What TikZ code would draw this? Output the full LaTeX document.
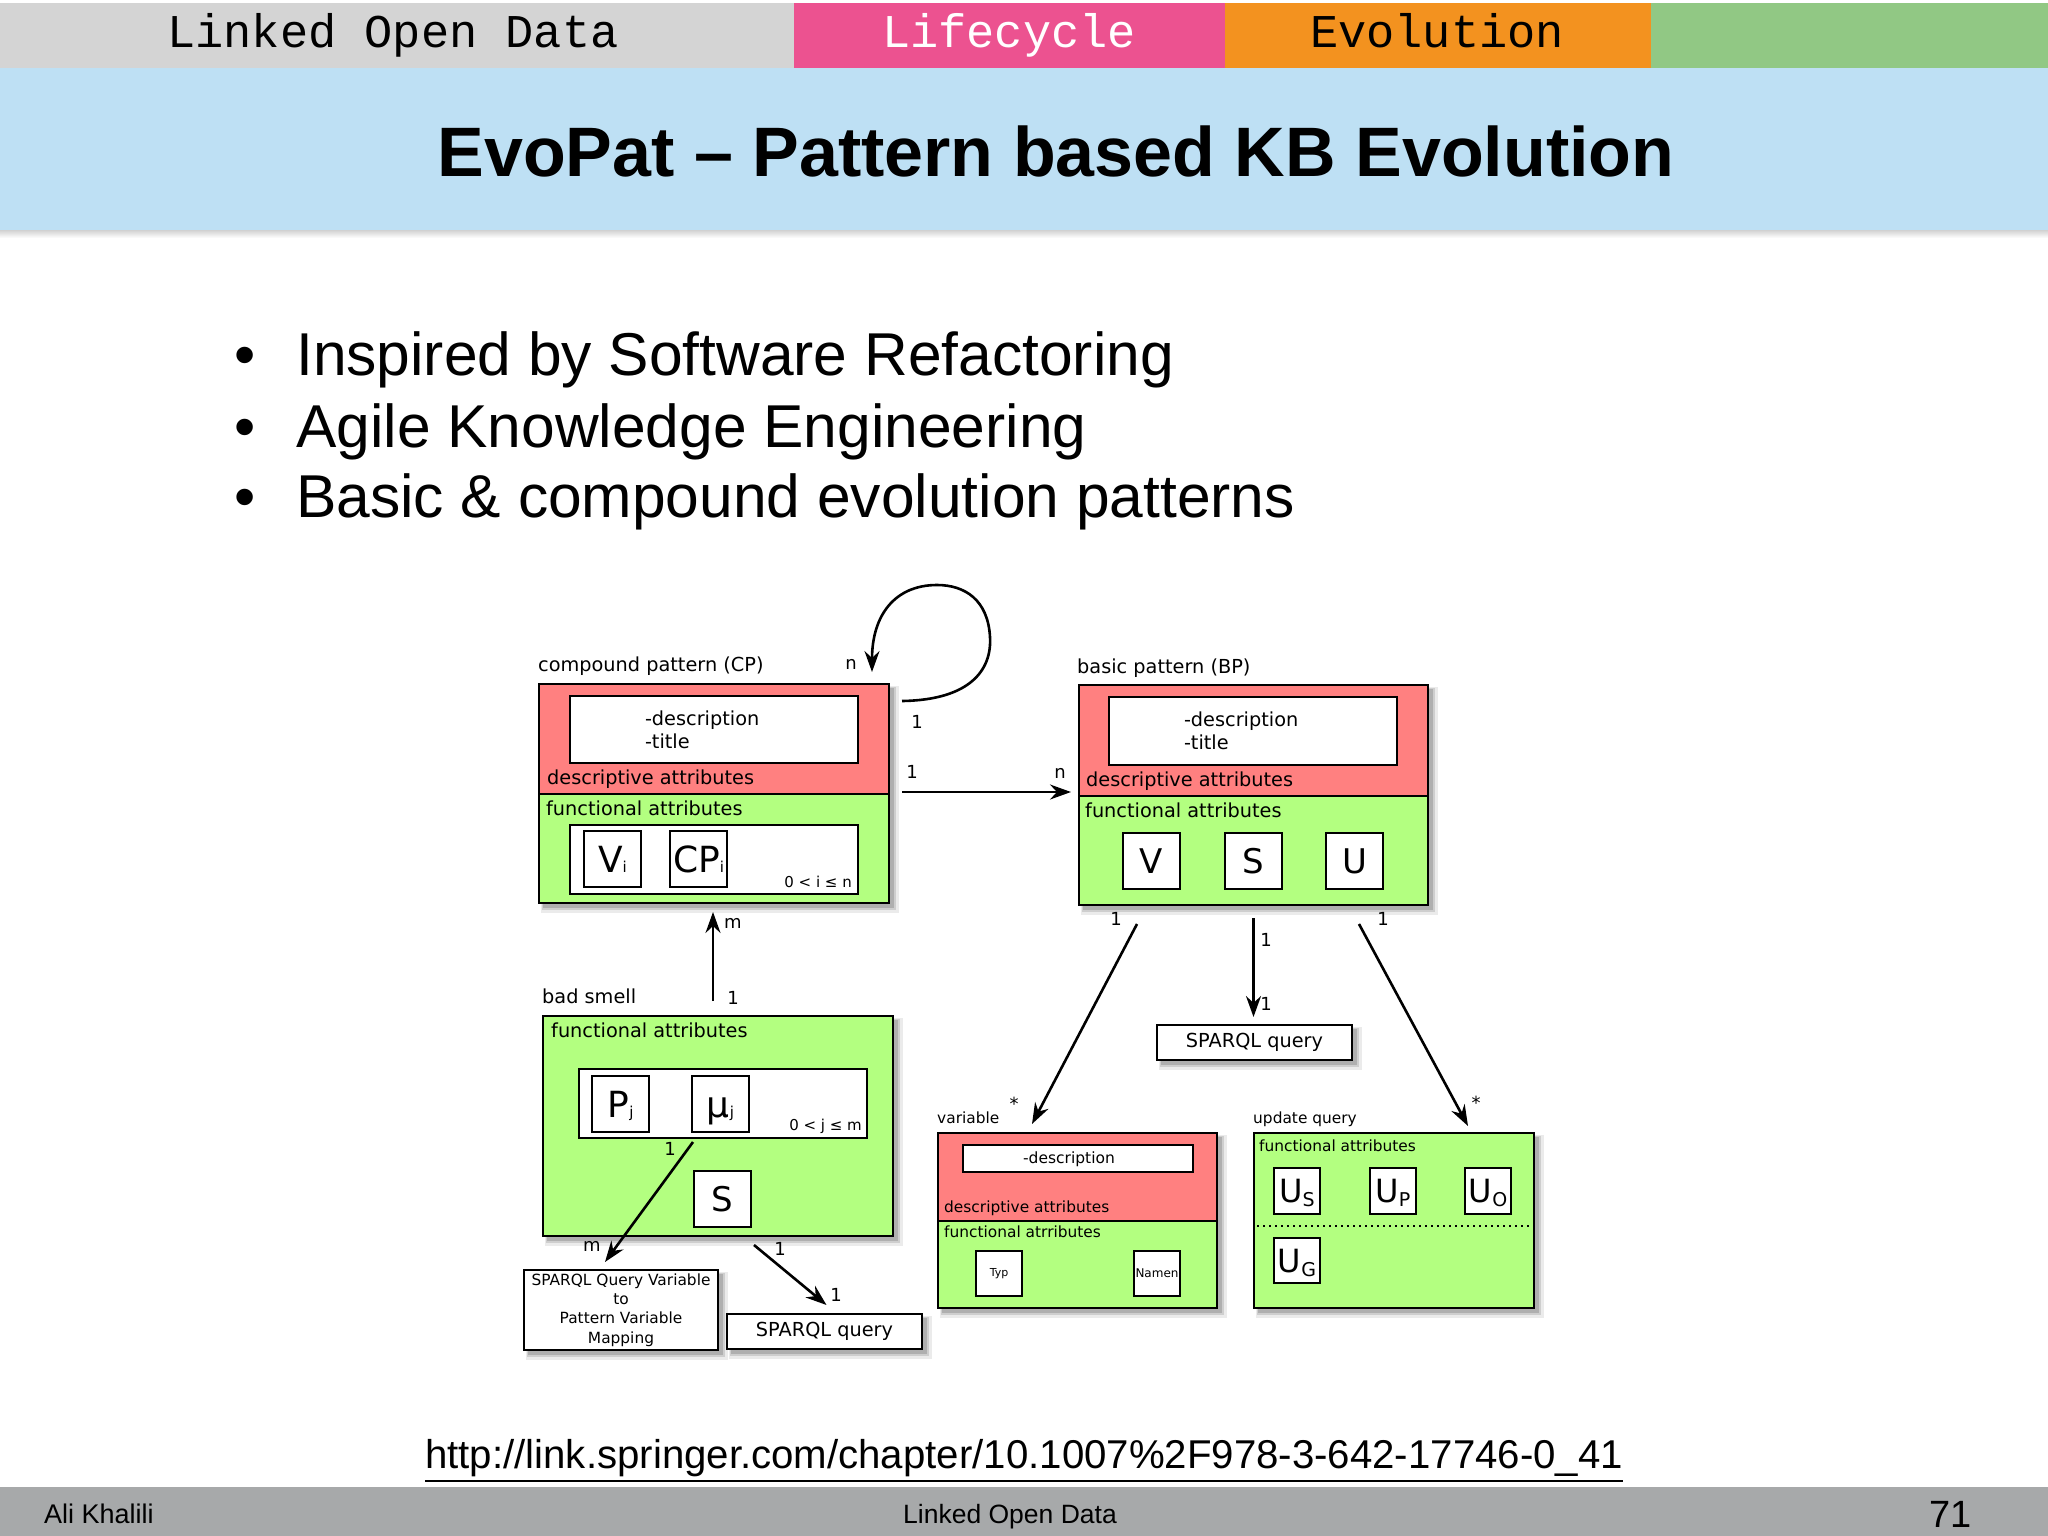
\documentclass[tikz,border=0pt]{standalone}
\usepackage{fontspec}
\newfontfamily\dv{DejaVu Sans}
\newfontfamily\ls{Liberation Sans}
\newfontfamily\lm{Liberation Mono}
\usetikzlibrary{arrows.meta,calc}
\pgfdeclarelayer{bg}
\pgfsetlayers{bg,main}
\definecolor{redf}{RGB}{255,128,128}
\definecolor{greenf}{RGB}{179,255,128}
\definecolor{tabgray}{RGB}{212,212,212}
\definecolor{tabpink}{RGB}{236,82,144}
\definecolor{taborange}{RGB}{243,146,31}
\definecolor{tabgreen}{RGB}{145,200,132}
\definecolor{bandblue}{RGB}{190,224,244}
\definecolor{footgray}{RGB}{167,169,170}
\newcommand\myfs[1]{\fontsize{#1pt}{#1pt}\selectfont}
\newcommand\subtx[1]{{\myfs{15}#1}}
\newcommand\usub[1]{\raisebox{-4pt}{\myfs{19}#1}}
\newcommand\shadowbox[2]{%
 \fill[black,opacity=0.08] ($(#1)+(2,2)$) rectangle ($(#2)+(10,10)$);
 \fill[black,opacity=0.12] ($(#1)+(3,3)$) rectangle ($(#2)+(7,7)$);
 \fill[black,opacity=0.15] ($(#1)+(4,4)$) rectangle ($(#2)+(5,5)$);}
\tikzset{
 rbox/.style={draw, line width=2.4pt, inner sep=0pt, outer sep=0pt, anchor=north west},
 lbl/.style={inner sep=0pt, anchor=base west, font=\dv\myfs{19.3}},
 slbl/.style={inner sep=0pt, anchor=base west, font=\dv\myfs{15.4}},
 mult/.style={inner sep=0pt, font=\dv\myfs{18}},
 descr/.style={text width=138pt, inner xsep=75pt, align=left, font=\dv\fontsize{19.3pt}{23pt}\selectfont},
 letter/.style={rbox, fill=white, minimum width=57pt, minimum height=56pt, font=\dv\myfs{36}, text height=26pt, text depth=0pt},
 bletter/.style={rbox, fill=white, minimum width=57pt, minimum height=56pt, font=\dv\myfs{34}, text height=24.8pt, text depth=0pt},
 uletter/.style={rbox, fill=white, minimum width=46pt, minimum height=46pt, font=\dv\myfs{32}, text height=23.3pt, text depth=0pt},
 tabtxt/.style={inner sep=0pt, anchor=base, font=\lm\myfs{47}},
 arr/.style={line width=2.6pt, -{Stealth[length=21pt,width=15pt,inset=7pt]}},
}
\begin{document}
\begin{tikzpicture}[x=1pt,y=-1pt]
\useasboundingbox (0,0) rectangle (2048,1536);
\begin{pgfonlayer}{bg}
\fill[white] (0,0) rectangle (2048,1536);
\end{pgfonlayer}
% top bar
\fill[tabgray] (0,3) rectangle (794,68);
\fill[tabpink] (794,3) rectangle (1225,68);
\fill[taborange] (1225,3) rectangle (1651,68);
\fill[tabgreen] (1651,3) rectangle (2048,68);
\node[tabtxt] (t1) at (393,48) {Linked Open Data};
\node[tabtxt, text=white] (t2) at (1009,48) {Lifecycle};
\node[tabtxt] (t3) at (1437,48) {Evolution};
% title band
\fill[bandblue] (0,68) rectangle (2048,230);
\shade[top color=black!18, bottom color=white] (0,230) rectangle (2048,238);
\node[inner sep=0pt, anchor=base, font=\ls\bfseries\myfs{70}] (title) at (1056,176) {EvoPat – Pattern based KB Evolution};
% bullets
\node[inner sep=0pt, anchor=base, font=\ls\myfs{60.5}] (d1) at (245,375) {•};
\node[inner sep=0pt, anchor=base, font=\ls\myfs{60.5}] (d2) at (245,447) {•};
\node[inner sep=0pt, anchor=base, font=\ls\myfs{60.5}] (d3) at (245,517) {•};
\node[inner sep=0pt, anchor=base west, font=\ls\myfs{60.5}] (b1) at (296,375) {Inspired by Software Refactoring};
\node[inner sep=0pt, anchor=base west, font=\ls\myfs{60.5}] (b2) at (296,447) {Agile Knowledge Engineering};
\node[inner sep=0pt, anchor=base west, font=\ls\myfs{60.5}] (b3) at (296,517) {Basic \& compound evolution patterns};
% URL
\node[inner sep=0pt, anchor=base west, font=\ls\myfs{40.2}] (url) at (425,1468) {http://link.springer.com/chapter/10.1007\%2F978-3-642-17746-0\_41};
\draw[line width=2.2pt] ([yshift=-13pt]url.base west) -- ([yshift=-13pt]url.base east);
% footer
\fill[footgray] (0,1487) rectangle (2048,1536);
\node[inner sep=0pt, anchor=base west, font=\ls\myfs{27}] (fa) at (44,1523) {Ali Khalili};
\node[inner sep=0pt, anchor=base, font=\ls\myfs{26.5}] (fb) at (1010,1523) {Linked Open Data};
\node[inner sep=0pt, anchor=base east, font=\ls\myfs{38}] (fc) at (1972,1527) {71};

% ===== compound pattern
\node[lbl] (cplab) at (538,671) {compound pattern (CP)};
\node[rbox, fill=redf, minimum width=350pt, minimum height=110pt] (cpd) at (539,684) {};
\node[rbox, fill=greenf, minimum width=350pt, minimum height=109pt] (cpf) at (539,794) {};
\node[rbox, fill=white, minimum height=67pt, descr] (cpdi) at (570,696) {-description\\-title};
\node[lbl] (cpdl) at (547,784) {descriptive attributes};
\node[lbl] (cpfl) at (546,815) {functional attributes};
\node[rbox, fill=white, minimum width=288pt, minimum height=69pt] (cpfi) at (570,825) {};
\node[letter] (vi) at (584,831) {V\subtx{i}};
\node[letter] (cpi) at (670,831) {CP\subtx{i}};
\node[inner sep=0pt, anchor=base east, font=\dv\myfs{15}] (cpidx) at (852,887) {0 < i ≤ n};

% ===== basic pattern
\node[lbl] (bplab) at (1077,673) {basic pattern (BP)};
\node[rbox, fill=redf, minimum width=349pt, minimum height=111pt] (bpd) at (1079,685) {};
\node[rbox, fill=greenf, minimum width=349pt, minimum height=109pt] (bpf) at (1079,796) {};
\node[rbox, fill=white, minimum height=68pt, descr] (bpdi) at (1109,697) {-description\\-title};
\node[lbl] (bpdl) at (1086,786) {descriptive attributes};
\node[lbl] (bpfl) at (1085,817) {functional attributes};
\node[bletter] (bv) at (1123,833) {V};
\node[bletter] (bs) at (1225,833) {S};
\node[bletter] (bu) at (1326,833) {U};

% ===== bad smell
\node[lbl] (badlab) at (542,1003) {bad smell};
\node[rbox, fill=greenf, minimum width=350pt, minimum height=220pt] (bad) at (543,1016) {};
\node[lbl] (badfl) at (551,1037) {functional attributes};
\node[rbox, fill=white, minimum width=288pt, minimum height=69pt] (badi) at (579,1069) {};
\node[letter] (pj) at (592,1076) {P\subtx{j}};
\node[letter] (mu) at (692,1076) {μ\subtx{j}};
\node[inner sep=0pt, anchor=base east, font=\dv\myfs{15}] (badidx) at (862,1130) {0 < j ≤ m};
\node[bletter] (sms) at (694,1171) {S};
\node[rbox, fill=white, minimum width=194pt, minimum height=80pt, align=center, font=\dv\fontsize{15.4pt}{19.4pt}\selectfont] (sqv) at (524,1270) {SPARQL Query Variable\\to\\Pattern Variable\\Mapping};
\node[rbox, fill=white, minimum width=195pt, minimum height=35pt, font=\dv\myfs{19.3}] (sq2) at (727,1314) {SPARQL query};

% ===== SPARQL query of BP
\node[rbox, fill=white, minimum width=195pt, minimum height=35pt, font=\dv\myfs{19.3}] (sq1) at (1157,1025) {SPARQL query};

% ===== variable
\node[slbl] (varlab) at (937,1123) {variable};
\node[rbox, fill=redf, minimum width=279pt, minimum height=88pt] (vard) at (938,1133) {};
\node[rbox, fill=greenf, minimum width=279pt, minimum height=87pt] (varf) at (938,1221) {};
\node[rbox, fill=white, minimum width=230pt, minimum height=27pt] (vardi) at (963,1145) {};
\node[inner sep=0pt, font=\dv\myfs{15.5}] (vardt) at (1069,1159) {-description};
\node[slbl] (vardl) at (944,1212) {descriptive attributes};
\node[slbl] (varfl) at (944,1237) {functional atrributes};
\node[rbox, fill=white, minimum width=46pt, minimum height=45pt, font=\dv\myfs{11}] (typ) at (976,1251) {Typ};
\node[rbox, fill=white, minimum width=46pt, minimum height=45pt, font=\dv\myfs{12}] (namen) at (1134,1251) {Namen};

% ===== update query
\node[slbl] (updlab) at (1253,1123) {update query};
\node[rbox, fill=greenf, minimum width=280pt, minimum height=175pt] (upd) at (1254,1133) {};
\node[slbl] (updfl) at (1259,1151) {functional attributes};
\node[uletter] (us) at (1274,1168) {U\usub{S}};
\node[uletter] (up) at (1370,1168) {U\usub{P}};
\node[uletter] (uo) at (1465,1168) {U\usub{O}};
\node[uletter, minimum height=45pt] (ug) at (1274,1238) {U\usub{G}};
\draw[line width=2pt, dash pattern=on 2pt off 4pt] ([shift={(3,93)}]upd.north west) -- ([shift={(-3,93)}]upd.north east);

% ===== connectors
\draw[arr] ([shift={(13,17)}]cpd.north east) .. controls (970,700) and (992,670) .. (990,637) .. controls (988,600) and (965,585) .. (937,585) .. controls (895,585) and (872,615) .. ([shift={(-17,-12)}]cpd.north east);
\draw[arr] ([shift={(13,-2)}]cpd.south east) -- ([shift={(-8,-4)}]bpd.south west);
\draw[arr] ([shift={(-5,-15)}]bad.north) -- ([shift={(-1,9)}]cpf.south);
\draw[arr] ([shift={(58,19)}]bpf.south west) -- ([shift={(94,-9)}]vard.north west);
\draw[arr] ([shift={(0,13)}]bpf.south) -- ([shift={(-1,-8)}]sq1.north);
\draw[arr] ([shift={(-69,19)}]bpf.south east) -- ([shift={(-66,-7)}]upd.north east);
\draw[arr] ([shift={(1,10)}]mu.south west) -- ([shift={(-16,-8)}]sqv.north);
\draw[arr] ([shift={(36,9)}]bad.south) -- ([shift={(2,-9)}]sq2.north);

% multiplicities
\node[mult] (m1) at (851,664) {n};
\node[mult] (m2) at (917,722) {1};
\node[mult] (m3) at (912,772) {1};
\node[mult] (m4) at (1060,773) {n};
\node[mult] (m5) at (733,923) {m};
\node[mult] (m6) at (733,998) {1};
\node[mult] (m7) at (1116,919) {1};
\node[mult] (m8) at (1266,940) {1};
\node[mult] (m9) at (1266,1004) {1};
\node[mult] (m10) at (1383,919) {1};
\node[mult] (m11) at (1014,1104) {*};
\node[mult] (m12) at (1476,1103) {*};
\node[mult] (m13) at (670,1149) {1};
\node[mult] (m14) at (592,1246) {m};
\node[mult] (m15) at (780,1249) {1};
\node[mult] (m16) at (836,1295) {1};

% shadows
\begin{pgfonlayer}{bg}
\shadowbox{cpd.north west}{cpf.south east}
\shadowbox{bpd.north west}{bpf.south east}
\shadowbox{bad.north west}{bad.south east}
\shadowbox{vard.north west}{varf.south east}
\shadowbox{upd.north west}{upd.south east}
\shadowbox{sqv.north west}{sqv.south east}
\shadowbox{sq2.north west}{sq2.south east}
\shadowbox{sq1.north west}{sq1.south east}
\end{pgfonlayer}
\end{tikzpicture}
\end{document}
